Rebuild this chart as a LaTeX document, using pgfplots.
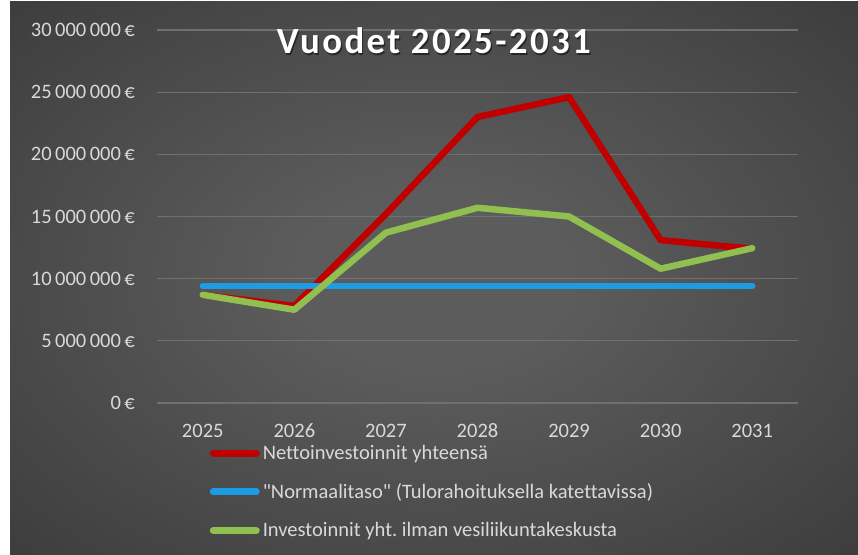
\documentclass[border=0pt]{standalone}
\usepackage{fontspec}
\setmainfont{Carlito}[Ligatures={NoCommon}]
\newfontfamily\titlefont{Carlito}[LetterSpace=6.5,Ligatures={NoCommon}]
\newcommand\dq{\XeTeXglyph\XeTeXcharglyph"22\relax}
\frenchspacing
\usepackage{pgfplots}
\pgfplotsset{compat=1.18}
\definecolor{bgin}{RGB}{92,92,92}
\definecolor{bgmid}{RGB}{56,56,56}
\definecolor{bgout}{RGB}{36,36,36}
\definecolor{gridc}{RGB}{112,112,112}
\definecolor{txt}{RGB}{217,217,217}
\definecolor{redl}{RGB}{192,0,0}
\definecolor{bluel}{RGB}{28,156,228}
\definecolor{greenl}{RGB}{146,192,80}
\pgfdeclareradialshading{bgshade}{\pgfpoint{0bp}{0bp}}{color(0bp)=(bgin); color(8bp)=(bgin); color(40bp)=(bgmid); color(62bp)=(bgout); color(75bp)=(bgout)}
\begin{document}
\begin{tikzpicture}[x=1bp,y=1bp]
\fill[white] (0,0) rectangle (858,555);
\shade[shading=bgshade] (10,0) rectangle (858,553);
\begin{axis}[
  at={(157bp,152bp)}, anchor=south west,
  scale only axis, width=641bp, height=373bp,
  xmin=-0.5, xmax=6.5, ymin=0, ymax=30000000,
  scaled y ticks=false,
  axis line style={draw=none},
  major tick length=0pt,
  xtick={0,1,2,3,4,5,6},
  xticklabels={2025,2026,2027,2028,2029,2030,2031},
  ytick={0,5000000,10000000,15000000,20000000,25000000,30000000},
  yticklabels={0\,€,5\,000\,000\,€,10\,000\,000\,€,15\,000\,000\,€,20\,000\,000\,€,25\,000\,000\,€,30\,000\,000\,€},
  ymajorgrids, grid style={gridc, line width=1.3bp},
  ticklabel style={font=\fontsize{20.6}{24}\selectfont, text=txt, inner sep=0pt},
  yticklabel style={anchor=east, xshift=-22bp},
  xticklabel style={anchor=base, yshift=-35bp},
  title={\titlefont\bfseries\fontsize{37}{40}\selectfont\rlap{\raisebox{-1.8bp}{\kern1.2bp\color{black!85}Vuodet 2025-2031}}Vuodet 2025-2031},
  title style={at={(axis description cs:0.432,0.92)}, anchor=base, text=white, inner sep=0pt},
  legend style={at={(axis description cs:0.082,-0.113)}, anchor=north west, draw=none, fill=none, inner sep=0pt,
    font=\fontsize{20.6}{24}\selectfont, text=txt, row sep=22.5bp, nodes={inner sep=0pt},
    /tikz/every odd column/.style={column sep=3bp}},
  legend cell align=left,
  legend image code/.code={\draw[line width=7bp, line cap=round] (3.5bp,0) -- (46.5bp,0);},
  line join=round,
]
\addplot[redl, line width=6.5bp] coordinates {(0,8700000) (1,7800000) (2,15200000) (3,23000000) (4,24600000) (5,13100000) (6,12400000)};
\addlegendentry{Nettoinvestoinnit yhteensä}
\addplot[bluel, line width=6.5bp, line cap=round] coordinates {(0,9400000) (1,9400000) (2,9400000) (3,9400000) (4,9400000) (5,9400000) (6,9400000)};
\addlegendentry{\dq Normaalitaso\dq\ (Tulorahoituksella katettavissa)}
\addplot[greenl, line width=6.5bp, line cap=round] coordinates {(0,8700000) (1,7500000) (2,13700000) (3,15700000) (4,15000000) (5,10800000) (6,12450000)};
\addlegendentry{Investoinnit yht.\ ilman vesiliikuntakeskusta}
\end{axis}
\end{tikzpicture}
\end{document}
